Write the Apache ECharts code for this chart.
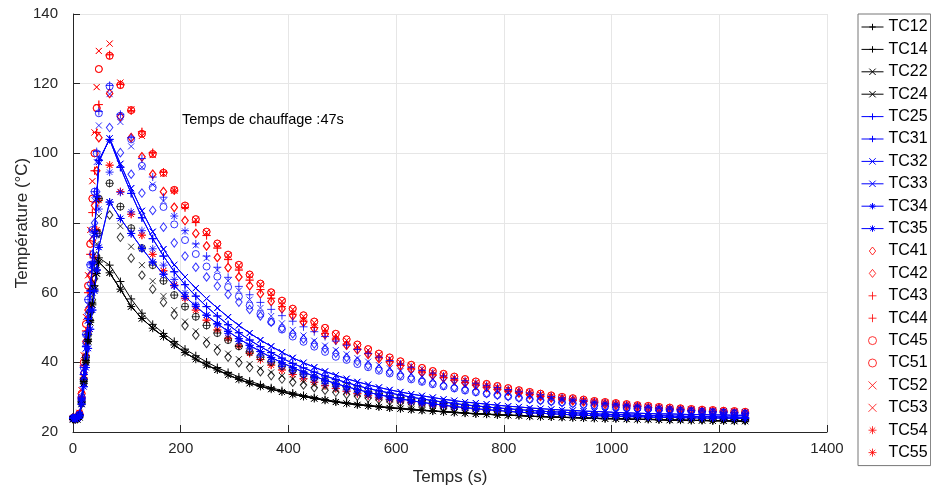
<!DOCTYPE html>
<html><head><meta charset="utf-8">
<script src="https://cdn.jsdelivr.net/npm/echarts@6/dist/echarts.min.js"></script>
<style>html,body{margin:0;padding:0;background:#fff}#c{width:931px;height:496px}</style>
</head><body><div id="c"></div>
<script>
// Time (s)
const time = [0,4,8,12,16,20,24,28,32,36,40,44,48,
68,88,108,128,148,168,188,208,228,248,268,288,308,328,348,368,388,408,428,448,468,488,508,528,548,568,588,608,628,648,668,688,708,728,748,768,788,808,828,848,868,888,908,928,948,968,988,1008,1028,1048,1068,1088,1108,1128,1148,1168,1188,1208,1228,1248];

// Labelled thermocouples (°C)
const tc12 = [23.8,23.7,23.8,24.5,28.5,34.5,40.5,46.5,52,57,62,66.5,70,
67.9,63.2,58.2,54.1,50.9,48.3,46.0,43.8,41.9,40.1,38.5,37.1,35.8,34.6,33.6,32.7,31.9,31.2,
30.5,29.9,29.3,28.8,28.4,28.0,27.7,27.4,27.1,26.8,26.6,26.3,26.1,25.9,25.7,25.5,25.3,25.2,25.0,24.9,
24.8,24.6,24.5,24.4,24.3,24.2,24.1,24.0,23.9,23.9,23.8,23.7,23.7,23.6,23.5,23.5,23.4,23.4,23.3,23.3,23.2,23.2];
const tc14 = [23.6,23.5,23.6,24.2,28,34,40,46,51.5,56.5,61,65.5,68.8,
65.7,61.0,56.0,52.6,49.8,47.4,45.0,42.8,40.9,39.2,37.8,36.4,35.1,34.0,33.1,32.3,31.5,30.8,
30.2,29.6,29.1,28.6,28.2,27.8,27.5,27.2,26.9,26.7,26.4,26.2,26.0,25.8,25.6,25.4,25.2,25.1,24.9,24.8,
24.7,24.5,24.4,24.3,24.2,24.1,24.0,23.9,23.8,23.8,23.7,23.6,23.6,23.5,23.4,23.4,23.3,23.3,23.2,23.2,23.1,23.1];
const tc22 = tc14, tc24 = tc14;
const tc25 = [24.0,23.9,24.0,24.8,29.5,36.5,44.5,52.5,60.5,68.5,77.5,87.5,98.0,
104,96,88.5,81.5,75.5,70.5,66,62.3,59,56,53.3,50.8,48.5,46.4,44.5,42.8,41.2,39.7,38.4,37.2,
36.1,35.1,34.2,33.3,32.5,31.8,31.2,30.6,30.0,29.5,29.0,28.6,28.2,27.8,27.5,27.2,26.9,26.7,26.4,26.2,
26.0,25.8,25.7,25.5,25.4,25.2,25.1,25.0,24.9,24.8,24.7,24.7,24.6,24.5,24.5,24.4,24.4,24.3,24.3,24.2];
const tc31 = tc25;
const tc32 = [24.0,23.9,24.0,24.8,29.0,36.0,44.0,52.0,60.0,68.0,77.0,87.0,97.5,
104.3,97,90,83.5,77.5,72.5,68,64.5,61.3,58.3,55.6,53,50.6,48.4,46.4,44.6,42.9,41.3,39.9,38.6,
37.4,36.3,35.3,34.4,33.6,32.8,32.1,31.5,30.9,30.4,29.9,29.4,29.0,28.6,28.3,28.0,27.7,27.4,27.2,26.9,
26.7,26.5,26.3,26.2,26.0,25.9,25.8,25.6,25.5,25.4,25.3,25.2,25.2,25.1,25.0,25.0,24.9,24.9,24.8,24.8];
const tc33 = tc32;
const tc34 = [24.0,23.9,24.0,24.6,28.0,33.0,38.5,44.0,49.5,55.0,60.5,66.5,73.0,
86,81.3,77,72.7,68.8,65.3,62,58.9,56.1,53.5,51.1,48.9,46.8,44.9,43.1,41.4,39.9,38.5,37.2,36.0,
34.9,33.9,33.0,32.2,31.4,30.7,30.1,29.5,29.0,28.5,28.1,27.7,27.3,27.0,26.7,26.4,26.2,25.9,25.7,25.5,
25.4,25.2,25.1,24.9,24.8,24.7,24.6,24.5,24.4,24.4,24.3,24.2,24.2,24.1,24.1,24.0,24.0,24.0,23.9,23.9];
const tc35 = tc34;
const tc41 = [24.0,23.9,24.1,25.0,29.5,37.0,46.0,55.0,65.0,75.0,85.0,95.0,104.5,
117.2,110.5,104.5,99.0,94.0,89.0,84.5,80.7,77.0,73.4,70.1,67.2,64.5,62.0,59.7,57.5,55.4,53.4,51.5,49.7,
48.0,46.4,44.9,43.6,42.3,41.1,40.0,39.0,38.0,37.1,36.3,35.5,34.8,34.1,33.4,32.8,32.2,31.7,31.2,30.7,
30.2,29.8,29.4,29.0,28.7,28.3,28.0,27.7,27.4,27.2,26.9,26.7,26.5,26.3,26.1,26.0,25.8,25.7,25.5,25.4];
const tc42 = tc41;
const tc43 = [24.0,23.9,24.1,25.0,30.0,39.0,49.0,60.0,71.0,83.0,95.0,106.0,114.0,
128.3,119.8,112.2,106.2,100.2,94.6,89.2,84.4,80.2,76.4,72.8,69.5,66.5,63.6,60.9,58.4,56.0,53.8,51.8,50.0,
48.3,46.7,45.2,43.8,42.5,41.3,40.2,39.1,38.1,37.2,36.4,35.6,34.9,34.2,33.5,32.9,32.3,31.8,31.3,30.8,
30.3,29.9,29.5,29.1,28.8,28.4,28.1,27.8,27.5,27.3,27.0,26.8,26.6,26.4,26.2,26.1,25.9,25.8,25.6,25.5];
const tc44 = tc43;
const tc45 = [24.0,23.9,24.1,25.3,31.0,40.0,51.0,62.0,74.0,87.0,100.0,113.0,124.2,
128,119.6,112.4,105.6,99.8,94.4,89.5,85,81.1,77.5,74.1,70.9,68.0,65.2,62.6,60.1,57.7,55.4,53.5,51.7,
49.9,48.2,46.6,45.1,43.8,42.5,41.4,40.3,39.3,38.4,37.5,36.7,35.9,35.2,34.5,33.8,33.2,32.6,32.0,31.5,
31.0,30.5,30.1,29.7,29.3,28.9,28.6,28.3,28.0,27.7,27.5,27.2,27.0,26.8,26.6,26.4,26.3,26.1,26.0,25.8];
const tc51 = tc45;
const tc52 = [24.0,23.9,24.2,25.5,32.0,42.0,53.0,65.0,78.0,92.0,106.0,119.0,129.4,
131.5,120.3,112.6,105,99.5,94.2,89.3,84.8,80.9,77.3,73.9,70.7,67.8,65.0,62.4,59.9,57.5,55.2,53.2,51.4,
49.6,47.9,46.3,44.8,43.5,42.2,41.1,40.0,39.0,38.1,37.2,36.4,35.6,34.9,34.2,33.5,32.9,32.3,31.8,31.3,
30.8,30.3,29.9,29.5,29.1,28.7,28.4,28.1,27.8,27.5,27.3,27.0,26.8,26.6,26.4,26.2,26.1,25.9,25.8,25.6];
const tc53 = tc52;
const tc54 = [24.0,23.9,24.1,25.0,29.5,35.5,42.0,49.0,56.0,63.0,70.0,78.0,86.5,
96.6,89,82.5,76.5,71,66.3,62.2,58.4,55,52.1,49.3,46.9,44.7,42.6,40.8,39.2,37.8,36.5,35.3,34.3,
33.3,32.5,31.7,31.0,30.4,29.8,29.3,28.9,28.5,28.1,27.7,27.4,27.1,26.8,26.6,26.3,26.1,25.9,25.7,25.6,
25.4,25.3,25.1,25.0,24.9,24.8,24.7,24.6,24.5,24.4,24.4,24.3,24.2,24.2,24.1,24.1,24.0,24.0,23.9,23.9];
const tc55 = tc54;

// Further plotted channels without legend entry (°C)
const blackCircle = [24.0,23.9,24.1,24.8,28.8,35.0,41.5,48.0,54.5,61.0,68.0,77.0,87.0,
91.4,84.7,78.5,72.8,67.9,63.4,59.3,56.0,53.1,50.6,48.4,46.4,44.6,43.0,41.5,40.1,38.9,37.7,36.6,35.6,
34.7,33.8,33.0,32.3,31.6,31.0,30.4,29.9,29.4,29.0,28.6,28.2,27.8,27.5,27.2,26.9,26.6,26.4,26.1,25.9,
25.7,25.5,25.3,25.2,25.0,24.9,24.7,24.6,24.5,24.4,24.3,24.2,24.1,24.0,23.9,23.9,23.8,23.7,23.7,23.6];
const blackPlus = blackCircle;
const blackCross = [24.0,23.9,24.1,24.7,28.5,34.5,40.5,47.0,53.5,60.0,66.5,74.0,82.0,
86,79.1,73.2,67.9,63.3,59.0,55.0,51.7,48.9,46.5,44.4,42.5,40.9,39.5,38.2,37.1,36.1,35.2,34.3,33.5,
32.8,32.1,31.5,30.9,30.4,29.9,29.4,29.0,28.6,28.2,27.9,27.5,27.2,26.9,26.7,26.4,26.2,26.0,25.8,25.6,
25.4,25.3,25.1,25.0,24.8,24.7,24.6,24.5,24.4,24.3,24.2,24.1,24.0,23.9,23.9,23.8,23.7,23.7,23.6,23.6];
const blackDiamond = [24.0,23.9,24.1,24.6,28.2,34.0,40.0,46.0,52.0,58.0,64.0,70.5,77.0,
82.3,75.9,69.9,65.0,61.0,57.2,53.6,50.5,47.8,45.4,43.3,41.5,39.9,38.5,37.3,36.2,35.2,34.3,33.5,32.7,
32.0,31.4,30.8,30.3,29.8,29.3,28.9,28.5,28.1,27.8,27.4,27.1,26.8,26.6,26.3,26.1,25.9,25.7,25.5,25.3,
25.2,25.0,24.9,24.8,24.6,24.5,24.4,24.3,24.2,24.1,24.1,24.0,23.9,23.8,23.8,23.7,23.7,23.6,23.6,23.5];
const blueCircle = [24.0,23.9,24.1,25.0,30.0,38.5,48.0,58.0,68.0,78.0,89.0,100.0,111.5,
119.2,110.8,104,96.4,90.2,84.6,79.6,75.1,71.1,67.5,64.6,61.6,58.9,56.3,53.9,51.6,49.4,47.4,45.9,44.5,
43.0,41.6,40.7,39.5,38.6,37.6,36.8,35.9,35.1,34.4,33.7,33.1,32.5,31.9,31.4,31.0,30.6,30.2,29.8,29.4,
29.1,28.8,28.5,28.2,27.9,27.7,27.4,27.2,27.0,26.8,26.6,26.4,26.3,26.1,26.0,25.8,25.7,25.6,25.4,25.3];
const bluePlus = [24.0,23.9,24.1,25.0,30.0,38.5,48.0,58.0,68.0,78.0,89.0,100.5,112.0,
119.5,111.2,104.5,98.5,93.2,87.4,82.0,77.8,74.0,70.5,67.3,64.4,61.8,59.4,57.2,55.2,53.4,51.8,50.2,48.8,
47.4,46.1,44.9,43.7,42.6,41.5,40.5,39.5,38.6,37.7,36.9,36.1,35.4,34.7,34.0,33.4,32.8,32.2,31.7,31.2,
30.7,30.2,29.8,29.4,29.0,28.6,28.3,28.0,27.7,27.4,27.1,26.9,26.6,26.4,26.2,26.0,25.8,25.7,25.5,25.4];
const blueCross = [24.0,23.9,24.1,25.0,30.0,38.0,47.0,56.5,66.0,76.0,86.5,97.5,108.0,
117,109,102,96,91,86.3,82.0,77.6,73.6,69.9,66.5,63.4,60.6,58.0,55.6,53.3,51.2,49.3,47.7,46.2,
44.8,43.5,42.3,41.2,40.2,39.2,38.3,37.5,36.7,35.9,35.2,34.5,33.9,33.3,32.7,32.2,31.7,31.2,30.8,30.4,
30.0,29.6,29.3,29.0,28.7,28.4,28.1,27.8,27.6,27.4,27.1,26.9,26.7,26.6,26.4,26.2,26.1,25.9,25.8,25.7];
const blueDiamond = [24.0,23.9,24.1,24.9,29.5,37.0,45.5,54.0,62.5,71.0,80.0,89.0,98.0,
107.4,100.2,94,88.6,83.6,78.8,74.3,70.5,67.3,64.5,61.9,59.5,57.3,55.2,53.3,51.5,49.8,48.2,46.7,45.3,
43.9,42.6,41.4,40.3,39.2,38.2,37.3,36.4,35.6,34.8,34.1,33.4,32.8,32.2,31.6,31.1,30.6,30.2,29.8,29.4,
29.0,28.7,28.4,28.1,27.8,27.5,27.3,27.0,26.8,26.6,26.4,26.2,26.1,25.9,25.8,25.6,25.5,25.4,25.3,25.2];
const blueStar = [24.0,23.9,24.1,24.9,29.0,35.0,41.5,48.0,55.0,62.0,69.0,76.5,84.0,
94.6,88.8,83.2,77.8,72.6,67.9,63.8,60.0,56.6,53.6,50.8,48.3,46.0,43.9,42.0,40.3,38.8,37.4,36.1,35.0,
33.9,33.0,32.1,31.4,30.7,30.1,29.5,29.0,28.6,28.2,27.8,27.5,27.2,26.9,26.6,26.4,26.2,26.0,25.8,25.6,
25.5,25.3,25.2,25.1,25.0,24.9,24.8,24.7,24.6,24.5,24.5,24.4,24.3,24.3,24.2,24.2,24.1,24.1,24.0,24.0];

const xTicks = {min: 0, max: 1400, step: 200};
const yTicks = {min: 20, max: 140, step: 20};
const annotation = 'Temps de chauffage :47s';

const BLACK = '#000000', BLUE = '#0000ff', RED = '#ff0000';
const SYM = {
  plus: 'path://M5,0L5,10M0,5L10,5',
  cross: 'path://M0,0L10,10M10,0L0,10',
  star: 'path://M5,0L5,10M0,5L10,5M1.6,1.6L8.4,8.4M8.4,1.6L1.6,8.4',
  circle: 'path://M10,5A5,5,0,1,1,0,5A5,5,0,1,1,10,5Z',
  diamond: 'path://M4,0L8,5L4,10L0,5Z'
};
const SIZE = {plus: 8, cross: 6, star: 8, circle: 7, diamond: [6.5, 8.5]};

const labelled = [
  ['TC12', tc12, BLACK, 'plus', true], ['TC14', tc14, BLACK, 'plus', true],
  ['TC22', tc22, BLACK, 'cross', true], ['TC24', tc24, BLACK, 'cross', true],
  ['TC25', tc25, BLUE, 'plus', true], ['TC31', tc31, BLUE, 'plus', true],
  ['TC32', tc32, BLUE, 'cross', true], ['TC33', tc33, BLUE, 'cross', true],
  ['TC34', tc34, BLUE, 'star', true], ['TC35', tc35, BLUE, 'star', true],
  ['TC41', tc41, RED, 'diamond', false], ['TC42', tc42, RED, 'diamond', false],
  ['TC43', tc43, RED, 'plus', false], ['TC44', tc44, RED, 'plus', false],
  ['TC45', tc45, RED, 'circle', false], ['TC51', tc51, RED, 'circle', false],
  ['TC52', tc52, RED, 'cross', false], ['TC53', tc53, RED, 'cross', false],
  ['TC54', tc54, RED, 'star', false], ['TC55', tc55, RED, 'star', false]
];
const unlabelled = [
  ['k_o', blackCircle, BLACK, 'circle'], ['k_+', blackPlus, BLACK, 'plus'],
  ['k_x', blackCross, BLACK, 'cross'], ['k_d', blackDiamond, BLACK, 'diamond'],
  ['b_o', blueCircle, BLUE, 'circle'], ['b_+', bluePlus, BLUE, 'plus'],
  ['b_x', blueCross, BLUE, 'cross'], ['b_d', blueDiamond, BLUE, 'diamond'],
  ['b_s', blueStar, BLUE, 'star']
];

function mk(name, vals, color, sym, isLine) {
  const s = {
    name, type: isLine ? 'line' : 'scatter',
    data: time.map((t, i) => [t, vals[i]]),
    symbol: SYM[sym], symbolSize: SIZE[sym],
    itemStyle: {color: isLine ? color : 'rgba(0,0,0,0)', borderColor: color, borderWidth: 1},
    silent: true, animation: false, emphasis: {disabled: true}
  };
  if (isLine) Object.assign(s, {showSymbol: true, showAllSymbol: true, lineStyle: {color, width: 1}});
  return s;
}
const series = labelled.map(r => mk(r[0], r[1], r[2], r[3], r[4]))
  .concat(unlabelled.map(r => mk(r[0], r[1], r[2], r[3], false)));

const FONT = '"Liberation Sans", Arial, Helvetica, sans-serif';
const AXC = '#262626';
const chart = echarts.init(document.getElementById('c'), null, {renderer: 'canvas'});
chart.setOption({
  animation: false,
  backgroundColor: '#ffffff',
  grid: {left: 73, right: 104, top: 14, bottom: 64, containLabel: false, outerBoundsMode: 'none'},
  xAxis: {
    type: 'value', min: xTicks.min, max: xTicks.max, interval: xTicks.step,
    name: 'Temps (s)', nameLocation: 'middle', nameGap: 37, nameMoveOverlap: false,
    nameTextStyle: {fontSize: 17, color: AXC, fontFamily: FONT},
    axisLine: {show: true, onZero: false, lineStyle: {color: AXC, width: 1}},
    axisTick: {show: true, inside: true, length: 7, lineStyle: {color: AXC}},
    axisLabel: {fontSize: 15, color: AXC, margin: 9, fontFamily: FONT, formatter: v => String(v)},
    splitLine: {show: true, lineStyle: {color: '#e6e6e6', width: 1}}
  },
  yAxis: {
    type: 'value', min: yTicks.min, max: yTicks.max, interval: yTicks.step,
    name: 'Température (°C)', nameLocation: 'middle', nameGap: 42, nameRotate: 90, nameMoveOverlap: false,
    nameTextStyle: {fontSize: 17, color: AXC, fontFamily: FONT},
    axisLine: {show: true, onZero: false, lineStyle: {color: AXC, width: 1}},
    axisTick: {show: true, inside: true, length: 7, lineStyle: {color: AXC}},
    axisLabel: {fontSize: 15, color: AXC, margin: 15, fontFamily: FONT, formatter: v => String(v)},
    splitLine: {show: true, lineStyle: {color: '#e6e6e6', width: 1}}
  },
  legend: {
    data: labelled.map(r => r[0]),
    orient: 'vertical', left: 858, top: 14,
    padding: [5, 3, 5, 3], itemWidth: 22, itemHeight: 8, itemGap: 6.4,
    backgroundColor: '#ffffff', borderColor: '#777777', borderWidth: 1, borderRadius: 0,
    textStyle: {fontSize: 16, color: '#000', fontFamily: FONT, lineHeight: 16},
    itemStyle: {borderWidth: 1}, lineStyle: {width: 1},
    selectedMode: false
  },
  graphic: [{
    type: 'text', left: 182, top: 112, silent: true,
    style: {text: annotation, fontSize: 14.5, fill: '#000', fontFamily: FONT}
  }],
  series
});
</script></body></html>
